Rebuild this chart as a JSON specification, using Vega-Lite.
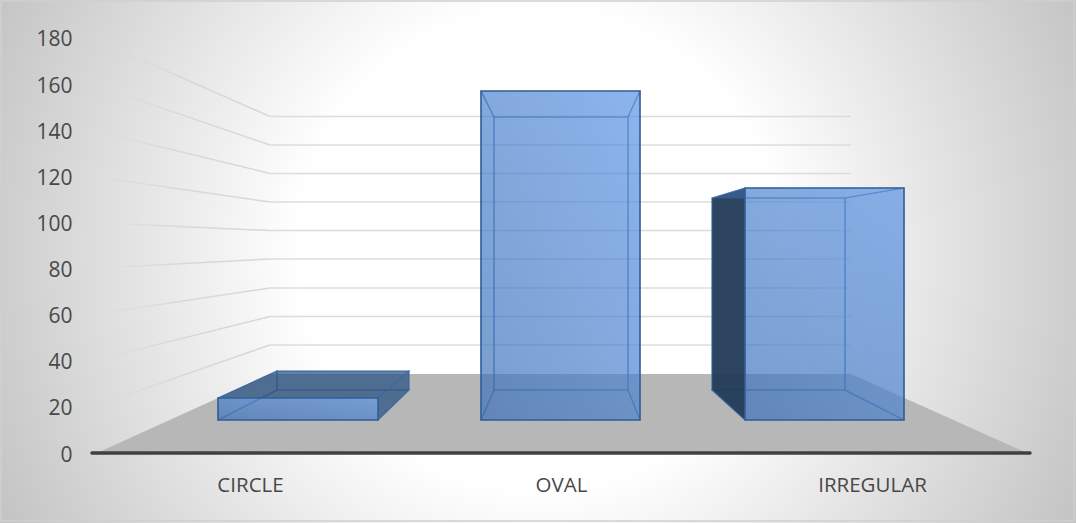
{
  "$schema": "https://vega.github.io/schema/vega-lite/v6.json",
  "width": 1076,
  "height": 523,
  "padding": 0,
  "autosize": {"type": "none"},
  "view": {"stroke": null},
  "config": {"font": "Open Sans"},
  "encoding": {
    "x": {
      "field": "x",
      "type": "quantitative",
      "scale": {"domain": [0, 1076], "nice": false, "zero": false},
      "title": null,
      "axis": {
        "values": [250, 561, 872],
        "labelExpr": "datum.value < 300 ? 'CIRCLE' : datum.value < 700 ? 'OVAL' : 'IRREGULAR'",
        "domain": false,
        "ticks": false,
        "grid": false,
        "labelFontSize": 20.5,
        "labelColor": "#484848",
        "labelBaseline": "middle",
        "labelPadding": -38,
        "zindex": 1
      }
    },
    "y": {
      "field": "y",
      "type": "quantitative",
      "scale": {"domain": [-30.36, 196.48], "nice": false, "zero": false},
      "title": null,
      "axis": {
        "values": [0, 20, 40, 60, 80, 100, 120, 140, 160, 180],
        "domain": false,
        "ticks": false,
        "grid": false,
        "labelFontSize": 21,
        "labelColor": "#484848",
        "labelAlign": "right",
        "labelBaseline": "middle",
        "labelPadding": -72,
        "labelOffset": 2,
        "zindex": 1
      }
    }
  },
  "layer": [
    {
      "description": "Radial backdrop of the chart area",
      "data": {"values": [{"x": 0, "x2": 1076, "y": 321, "y2": -145}]},
      "mark": {
        "type": "rect",
        "clip": true,
        "color": {
          "gradient": "radial",
          "x1": 0.5, "y1": 0.5, "r1": 0,
          "x2": 0.5, "y2": 0.5, "r2": 0.6,
          "stops": [
            {"offset": 0, "color": "#ffffff"},
            {"offset": 0.37, "color": "#ffffff"},
            {"offset": 1, "color": "#bcbcbc"}
          ]
        }
      },
      "encoding": {"x2": {"field": "x2"}, "y2": {"field": "y2"}}
    },
    {
      "description": "Floor of the 3D plot",
      "data": {"values": [
        {"x": 97, "y": 0, "y2": 0},
        {"x": 271, "y": 34.26, "y2": 0},
        {"x": 851, "y": 34.26, "y2": 0},
        {"x": 1027, "y": 0, "y2": 0}
      ]},
      "mark": {"type": "area", "color": "#b7b7b7", "opacity": 1},
      "encoding": {"y2": {"field": "y2"}}
    },
    {
      "description": "Gridlines on the side wall, fading towards the axis",
      "data": {"values": [
        {"level": 20, "x": 92, "y": 20}, {"level": 20, "x": 270, "y": 46.84},
        {"level": 40, "x": 92, "y": 40}, {"level": 40, "x": 270, "y": 59.2},
        {"level": 60, "x": 92, "y": 60}, {"level": 60, "x": 270, "y": 71.57},
        {"level": 80, "x": 92, "y": 80}, {"level": 80, "x": 270, "y": 84.14},
        {"level": 100, "x": 92, "y": 100}, {"level": 100, "x": 270, "y": 96.5},
        {"level": 120, "x": 92, "y": 120}, {"level": 120, "x": 270, "y": 108.87},
        {"level": 140, "x": 92, "y": 140}, {"level": 140, "x": 270, "y": 121.23},
        {"level": 160, "x": 92, "y": 160}, {"level": 160, "x": 270, "y": 133.59},
        {"level": 180, "x": 92, "y": 180}, {"level": 180, "x": 270, "y": 145.95}
      ]},
      "mark": {
        "type": "line",
        "strokeWidth": 1.5,
        "stroke": {
          "gradient": "linear",
          "x1": 0, "y1": 0, "x2": 1, "y2": 0,
          "stops": [
            {"offset": 0, "color": "rgba(214,214,214,0)"},
            {"offset": 0.5, "color": "#d8d8d8"},
            {"offset": 1, "color": "#d8d8d8"}
          ]
        }
      },
      "encoding": {"detail": {"field": "level"}}
    },
    {
      "description": "Gridlines on the back wall",
      "data": {"values": [
        {"level": 20, "x": 270, "y": 46.84}, {"level": 20, "x": 851, "y": 46.84},
        {"level": 40, "x": 270, "y": 59.2}, {"level": 40, "x": 851, "y": 59.2},
        {"level": 60, "x": 270, "y": 71.57}, {"level": 60, "x": 851, "y": 71.57},
        {"level": 80, "x": 270, "y": 84.14}, {"level": 80, "x": 851, "y": 84.14},
        {"level": 100, "x": 270, "y": 96.5}, {"level": 100, "x": 851, "y": 96.5},
        {"level": 120, "x": 270, "y": 108.87}, {"level": 120, "x": 851, "y": 108.87},
        {"level": 140, "x": 270, "y": 121.23}, {"level": 140, "x": 851, "y": 121.23},
        {"level": 160, "x": 270, "y": 133.59}, {"level": 160, "x": 851, "y": 133.59},
        {"level": 180, "x": 270, "y": 145.95}, {"level": 180, "x": 851, "y": 145.95}
      ]},
      "mark": {"type": "line", "strokeWidth": 1.5, "color": "#dcdcdc"},
      "encoding": {"detail": {"field": "level"}}
    },
    {
      "description": "Category axis line along the front of the floor",
      "data": {"values": [{"x": 92, "x2": 1030, "y": 0}]},
      "mark": {"type": "rule", "color": "#404040", "strokeWidth": 3.5, "strokeCap": "round"},
      "encoding": {"x2": {"field": "x2"}}
    },
    {
      "description": "Back, side, top and bottom faces of each box, back to front",
      "data": {"values": [
        {"face": "circle-back", "shade": "glass", "x": 277, "y": 35.57, "y2": 27.32},
        {"face": "circle-back", "shade": "glass", "x": 409, "y": 35.57, "y2": 27.32},
        {"face": "circle-bottom", "shade": "glass", "x": 218, "y": 14.31, "y2": 14.31},
        {"face": "circle-bottom", "shade": "glass", "x": 277, "y": 27.32, "y2": 14.31},
        {"face": "circle-bottom", "shade": "glass", "x": 378, "y": 27.32, "y2": 14.31},
        {"face": "circle-bottom", "shade": "glass", "x": 409, "y": 27.32, "y2": 27.32},
        {"face": "circle-left", "shade": "glass", "x": 218, "y": 23.85, "y2": 14.31},
        {"face": "circle-left", "shade": "glass", "x": 277, "y": 35.57, "y2": 27.32},
        {"face": "circle-right", "shade": "shaded", "x": 378, "y": 23.85, "y2": 14.31},
        {"face": "circle-right", "shade": "shaded", "x": 409, "y": 35.57, "y2": 27.32},
        {"face": "circle-top", "shade": "shaded", "x": 218, "y": 23.85, "y2": 23.85},
        {"face": "circle-top", "shade": "shaded", "x": 277, "y": 35.57, "y2": 23.85},
        {"face": "circle-top", "shade": "shaded", "x": 378, "y": 35.57, "y2": 23.85},
        {"face": "circle-top", "shade": "shaded", "x": 409, "y": 35.57, "y2": 35.57},

        {"face": "oval-back", "shade": "glass", "x": 494, "y": 145.73, "y2": 27.32},
        {"face": "oval-back", "shade": "glass", "x": 628, "y": 145.73, "y2": 27.32},
        {"face": "oval-bottom", "shade": "glass", "x": 481, "y": 14.31, "y2": 14.31},
        {"face": "oval-bottom", "shade": "glass", "x": 494, "y": 27.32, "y2": 14.31},
        {"face": "oval-bottom", "shade": "glass", "x": 628, "y": 27.32, "y2": 14.31},
        {"face": "oval-bottom", "shade": "glass", "x": 640, "y": 14.31, "y2": 14.31},
        {"face": "oval-left", "shade": "glass", "x": 481, "y": 157.01, "y2": 14.31},
        {"face": "oval-left", "shade": "glass", "x": 494, "y": 145.73, "y2": 27.32},
        {"face": "oval-right", "shade": "glass", "x": 628, "y": 145.73, "y2": 27.32},
        {"face": "oval-right", "shade": "glass", "x": 640, "y": 157.01, "y2": 14.31},
        {"face": "oval-top", "shade": "glass", "x": 481, "y": 157.01, "y2": 157.01},
        {"face": "oval-top", "shade": "glass", "x": 494, "y": 157.01, "y2": 145.73},
        {"face": "oval-top", "shade": "glass", "x": 628, "y": 157.01, "y2": 145.73},
        {"face": "oval-top", "shade": "glass", "x": 640, "y": 157.01, "y2": 157.01},

        {"face": "irregular-back", "shade": "glass", "x": 712, "y": 110.6, "y2": 27.32},
        {"face": "irregular-back", "shade": "glass", "x": 845, "y": 110.6, "y2": 27.32},
        {"face": "irregular-bottom", "shade": "glass", "x": 712, "y": 27.32, "y2": 27.32},
        {"face": "irregular-bottom", "shade": "glass", "x": 745, "y": 27.32, "y2": 14.31},
        {"face": "irregular-bottom", "shade": "glass", "x": 845, "y": 27.32, "y2": 14.31},
        {"face": "irregular-bottom", "shade": "glass", "x": 904, "y": 14.31, "y2": 14.31},
        {"face": "irregular-left", "shade": "dark", "x": 712, "y": 110.6, "y2": 27.32},
        {"face": "irregular-left", "shade": "dark", "x": 745, "y": 114.94, "y2": 14.31},
        {"face": "irregular-right", "shade": "glass", "x": 845, "y": 110.6, "y2": 27.32},
        {"face": "irregular-right", "shade": "glass", "x": 904, "y": 114.94, "y2": 14.31},
        {"face": "irregular-top", "shade": "glass", "x": 712, "y": 110.6, "y2": 110.6},
        {"face": "irregular-top", "shade": "glass", "x": 745, "y": 114.94, "y2": 110.6},
        {"face": "irregular-top", "shade": "glass", "x": 845, "y": 114.94, "y2": 110.6},
        {"face": "irregular-top", "shade": "glass", "x": 904, "y": 114.94, "y2": 114.94}
      ]},
      "mark": {"type": "area", "opacity": 1, "stroke": "#3a6cab", "strokeWidth": 1.2, "strokeOpacity": 0.6},
      "encoding": {
        "y2": {"field": "y2"},
        "detail": {"field": "face"},
        "color": {
          "field": "shade",
          "type": "nominal",
          "scale": {
            "domain": ["glass", "shaded", "dark"],
            "range": ["rgba(63,120,196,0.36)", "rgba(30,68,110,0.55)", "rgba(30,54,82,0.9)"]
          },
          "legend": null
        }
      }
    },
    {
      "description": "Front face of each box, height read against the value axis",
      "data": {"values": [
        {"category": "CIRCLE", "x": 218, "x2": 378, "y": 23.85, "y2": 14.31},
        {"category": "OVAL", "x": 481, "x2": 640, "y": 157.01, "y2": 14.31},
        {"category": "IRREGULAR", "x": 745, "x2": 904, "y": 114.94, "y2": 14.31}
      ]},
      "mark": {
        "type": "rect",
        "stroke": "#2f5d96",
        "strokeWidth": 1.6,
        "strokeOpacity": 0.9,
        "fill": {
          "gradient": "linear",
          "x1": 0, "y1": 1, "x2": 1, "y2": 0,
          "stops": [
            {"offset": 0, "color": "rgba(56,108,178,0.5)"},
            {"offset": 1, "color": "rgba(96,155,238,0.5)"}
          ]
        }
      },
      "encoding": {"x2": {"field": "x2"}, "y2": {"field": "y2"}}
    },
    {
      "description": "Thin frame around the chart area",
      "data": {"values": [{"x": 1, "x2": 1074, "y": 196, "y2": -29.5}]},
      "mark": {"type": "rect", "fillOpacity": 0, "stroke": "#cfcfcf", "strokeWidth": 1.5},
      "encoding": {"x2": {"field": "x2"}, "y2": {"field": "y2"}}
    }
  ]
}
